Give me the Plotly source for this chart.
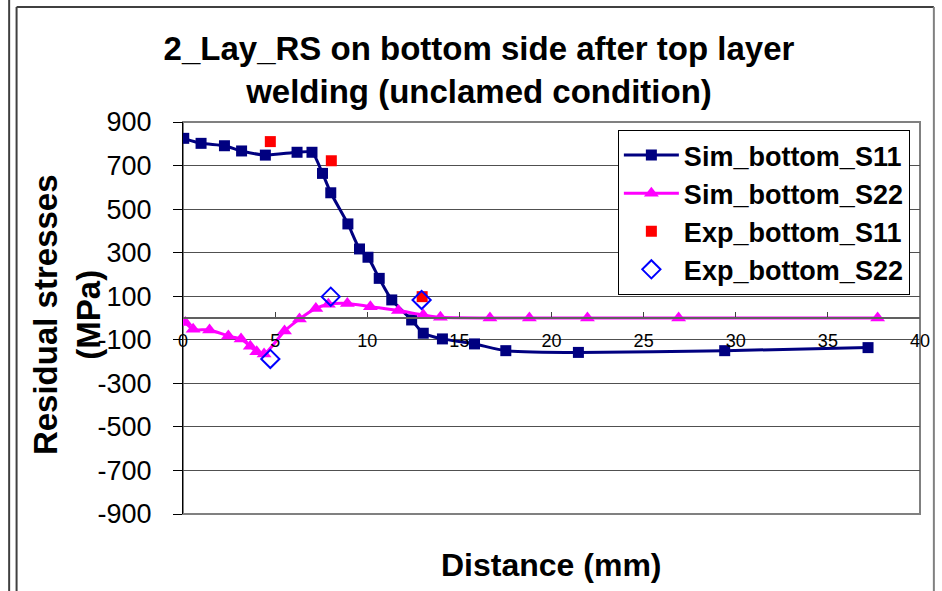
import plotly.graph_objects as go

# ---- data ----
sim_s11_x = [0.04, 0.98, 2.25, 3.18, 4.47, 6.19, 7.0, 7.57, 8.02, 8.95, 9.58, 10.04,
             10.65, 11.33, 12.41, 13.04, 14.08, 15.82, 17.52, 21.46, 29.4, 37.18]
sim_s11_y = [825, 802, 791, 767, 748, 761, 761, 664, 575, 432, 317, 279,
             182, 83, -9, -70, -96, -119, -150, -158, -150, -136]

sim_s22_x = [0.13, 0.55, 1.44, 2.46, 3.15, 3.65, 4.0, 4.4, 5.51, 6.32, 7.21, 7.89,
             8.92, 10.17, 11.69, 13.04, 13.97, 16.66, 18.8, 21.95, 26.9, 37.7]
sim_s22_y = [-21, -52, -55, -83, -97, -130, -155, -165, -60, -5, 44, 63,
             67, 52, 34, 14, 3, 0, 0, 0, 0, 0]

exp_s11_x = [4.74, 8.05, 12.98]
exp_s11_y = [810, 722, 98]

exp_s22_x = [4.74, 8.02, 12.95]
exp_s22_y = [-188, 98, 83]

y_ticks = [900, 700, 500, 300, 100, -100, -300, -500, -700, -900]
y_tick_labels = ["900", "700", "500", "300", "100", "-100", "-300", "-500", "-700", "-900"]
x_ticks = [0, 5, 10, 15, 20, 25, 30, 35, 40]
x_tick_labels = ["0", "5", "10", "15", "20", "25", "30", "35", "40"]

FONT = "Liberation Sans, Arial, sans-serif"

# plot-area pixel geometry (for converting frame positions to paper coords)
L, R, T, B = 183, 927, 122, 514
W, H = R - L, B - T
def px(xp): return (xp - L) / W
def py(yp): return (B - yp) / H

fig = go.Figure()
fig.add_trace(go.Scatter(
    x=sim_s11_x, y=sim_s11_y, name="Sim_bottom_S11", mode="lines+markers",
    line=dict(color="#000080", width=3, shape="spline", smoothing=0.6),
    marker=dict(symbol="square", size=11, color="#000080"), legendgroup="a"))
fig.add_trace(go.Scatter(
    x=sim_s22_x, y=sim_s22_y, name="Sim_bottom_S22", mode="lines+markers",
    line=dict(color="#FF00FF", width=3, shape="spline", smoothing=0.8),
    marker=dict(symbol="triangle-up", size=13, color="#FF00FF"), legendgroup="b"))
fig.add_trace(go.Scatter(
    x=exp_s11_x, y=exp_s11_y, name="Exp_bottom_S11", mode="markers",
    marker=dict(symbol="square", size=11, color="#FF0000"), legendgroup="c"))
fig.add_trace(go.Scatter(
    x=exp_s22_x, y=exp_s22_y, name="Exp_bottom_S22", mode="markers",
    marker=dict(symbol="diamond-open", size=14, color="#0000FF", line=dict(width=2)),
    legendgroup="d"))

fig.update_layout(
    width=942, height=591,
    margin=dict(l=L, r=942 - R, t=T, b=591 - B, pad=0),
    paper_bgcolor="white", plot_bgcolor="white",
    font=dict(family=FONT, color="black"),
    showlegend=True,
    legend=dict(x=px(622), y=py(130), xanchor="left", yanchor="top",
                bordercolor="black", borderwidth=1, bgcolor="white",
                font=dict(size=27, family=FONT, color="black", weight="bold"),
                tracegroupgap=0, itemwidth=55),
    title=dict(text="2_Lay_RS on bottom side after top layer<br>welding (unclamed condition)",
               x=479 / 942, xanchor="center", y=1 - 60 / 591, yanchor="middle",
               yref="container", xref="container",
               font=dict(size=33, family=FONT, color="black", weight="bold")),
    xaxis=dict(range=[0, 40], tickvals=x_ticks, ticktext=x_tick_labels,
               ticks="inside", ticklen=5,
               tickcolor="#404040", showgrid=False, zeroline=False,
               showline=True, linecolor="#606060", linewidth=2,
               anchor="free", position=0.5,
               tickfont=dict(size=18, family=FONT, color="black"),
               ticklabelstandoff=6),
    yaxis=dict(range=[-900, 900], tickvals=y_ticks, ticktext=y_tick_labels,
               ticks="outside", ticklen=9,
               tickcolor="black", showgrid=True, gridcolor="#505050", gridwidth=1,
               zeroline=False, showline=True, linecolor="black", linewidth=1,
               tickfont=dict(size=27, family=FONT, color="black"),
               ticklabelstandoff=16),
)

# plot area border
fig.add_shape(type="rect", xref="paper", yref="paper", x0=0, x1=1, y0=0, y1=1,
              line=dict(color="#808080", width=2), layer="below")
# chart frame lines
fig.add_shape(type="line", xref="paper", yref="paper", x0=px(15), x1=px(941),
              y0=py(7), y1=py(7), line=dict(color="#404040", width=2))
fig.add_shape(type="line", xref="paper", yref="paper", x0=px(15), x1=px(15),
              y0=py(7), y1=py(600), line=dict(color="#404040", width=2))
fig.add_shape(type="line", xref="paper", yref="paper", x0=px(941), x1=px(941),
              y0=py(7), y1=py(600), line=dict(color="#808080", width=2))
fig.add_shape(type="line", xref="paper", yref="paper", x0=px(7.5), x1=px(7.5),
              y0=py(-10), y1=py(600), line=dict(color="#404040", width=2))

# axis titles
fig.add_annotation(text="Residual stresses<br>(MPa)", xref="paper", yref="paper",
                   x=px(66), y=py(315), xanchor="center", yanchor="middle",
                   textangle=-90, showarrow=False,
                   font=dict(size=33, family=FONT, color="black", weight="bold"))
fig.add_annotation(text="Distance (mm)", xref="paper", yref="paper",
                   x=px(555), y=py(565), xanchor="center", yanchor="middle",
                   showarrow=False,
                   font=dict(size=32, family=FONT, color="black", weight="bold"))

fig.write_html("out.html")
